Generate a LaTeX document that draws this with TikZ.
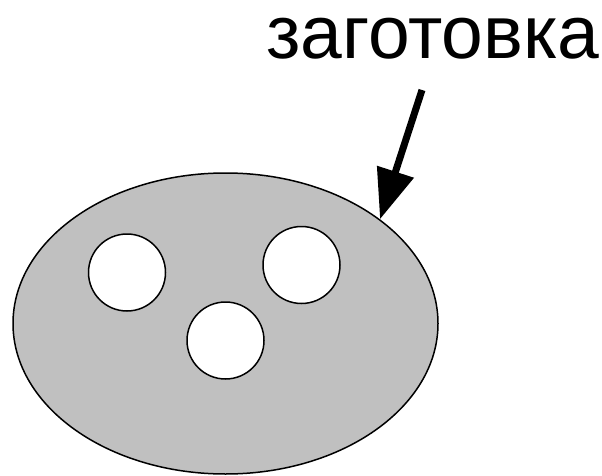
\documentclass[tikz,border=0pt]{standalone}
\usepackage{fontspec}
\setmainfont{Liberation Sans}
\usepackage{xcolor}
\usetikzlibrary{arrows.meta,shapes.geometric}
\definecolor{BlankGray}{HTML}{C0C0C0}

\begin{document}
\begin{tikzpicture}[x=1pt, y=-1pt, >=Triangle, font=\fontsize{75}{80}\selectfont]
\tikzset{blank/.style={draw=black, line width=1.5pt, fill=BlankGray, ellipse, inner sep=0pt, minimum width=425pt, minimum height=301pt}, hole/.style={draw=black, line width=1.5pt, fill=white, circle, inner sep=0pt, minimum size=77pt}}
\useasboundingbox (0,0) rectangle (602,476);
\node[blank] (piece) at (225.5,323.5) {};
\node[hole] (h1) at (127,272.5) {};
\node[hole] (h2) at (301.5,265) {};
\node[hole] (h3) at (225.5,340.5) {};
\node[anchor=base west, inner sep=0pt] (lbl) at (266,59) {заготовка};
\coordinate (src) at (422,90);
\draw[->, line width=7pt, >={Triangle[length=50pt, width=37pt]}] (src) -- (piece.34);
\end{tikzpicture}
\end{document}
